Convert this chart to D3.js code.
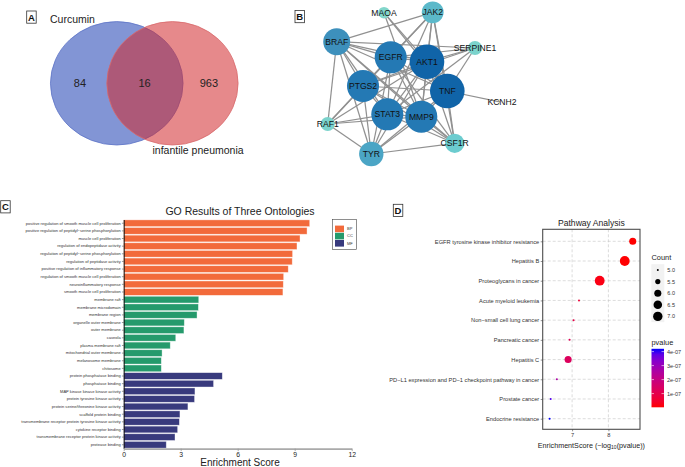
<!DOCTYPE html>
<html><head><meta charset="utf-8">
<script src="https://cdn.jsdelivr.net/npm/d3@7"></script>
<style>body{margin:0;background:#fff}svg{display:block;font-family:"Liberation Sans",Arial,sans-serif}</style>
</head><body><svg id="c" width="685" height="467"></svg>
<script>
// ---------- Panel A : Venn ----------
const vennSets = ["Curcumin", "infantile pneumonia"];
const vennCounts = [84, 16, 963];

// ---------- Panel B : PPI network ----------
const geneNames  = ["MAOA","JAK2","BRAF","SERPINE1","EGFR","AKT1","PTGS2","TNF","KCNH2","STAT3","MMP9","RAF1","CSF1R","TYR"];
const geneDegree = [4, 8, 10, 5, 12, 13, 12, 13, 1, 12, 12, 5, 7, 9];
const layoutX = [84, 132.7, 36.7, 175, 90.7, 127, 63, 147.3, 202, 87.3, 121.3, 27.7, 154.7, 71.3];
const layoutY = [12.7, 12.3, 41.7, 48, 57.3, 61.7, 86, 91, 102.3, 114.3, 116.7, 124, 143.3, 154];
const geneLinks = [
 ["EGFR","AKT1"],["EGFR","PTGS2"],["EGFR","TNF"],["EGFR","STAT3"],["EGFR","MMP9"],
 ["AKT1","PTGS2"],["AKT1","TNF"],["AKT1","STAT3"],["AKT1","MMP9"],
 ["PTGS2","TNF"],["PTGS2","STAT3"],["PTGS2","MMP9"],["TNF","STAT3"],["TNF","MMP9"],["STAT3","MMP9"],
 ["BRAF","EGFR"],["BRAF","AKT1"],["BRAF","PTGS2"],["BRAF","STAT3"],["BRAF","MMP9"],["BRAF","TNF"],
 ["BRAF","RAF1"],["BRAF","TYR"],["BRAF","JAK2"],["BRAF","SERPINE1"],
 ["JAK2","EGFR"],["JAK2","AKT1"],["JAK2","STAT3"],["JAK2","TNF"],["JAK2","PTGS2"],["JAK2","MMP9"],
 ["MAOA","AKT1"],["MAOA","TNF"],["MAOA","MMP9"],
 ["SERPINE1","EGFR"],["SERPINE1","AKT1"],["SERPINE1","TNF"],["SERPINE1","PTGS2"],["SERPINE1","STAT3"],
 ["KCNH2","TNF"],
 ["RAF1","EGFR"],["RAF1","AKT1"],["RAF1","STAT3"],["RAF1","MMP9"],["RAF1","PTGS2"],
 ["CSF1R","EGFR"],["CSF1R","AKT1"],["CSF1R","TNF"],["CSF1R","PTGS2"],["CSF1R","STAT3"],["CSF1R","MMP9"],["CSF1R","BRAF"],["CSF1R","JAK2"],
 ["TYR","PTGS2"],["TYR","STAT3"],["TYR","MMP9"],["TYR","AKT1"],["TYR","EGFR"],["TYR","CSF1R"],["TYR","TNF"],["TYR","RAF1"]
];

// ---------- Panel C : GO enrichment ----------
const goTerms = [
 "positive regulation of smooth muscle cell proliferation","positive regulation of peptidyl−serine phosphorylation",
 "muscle cell proliferation","regulation of endopeptidase activity","regulation of peptidyl−serine phosphorylation",
 "regulation of peptidase activity","positive regulation of inflammatory response","regulation of smooth muscle cell proliferation",
 "neuroinflammatory response","smooth muscle cell proliferation",
 "membrane raft","membrane microdomain","membrane region","organelle outer membrane","outer membrane","caveola",
 "plasma membrane raft","mitochondrial outer membrane","melanosome membrane","chitosome",
 "protein phosphatase binding","phosphatase binding","MAP kinase kinase kinase activity","protein tyrosine kinase activity",
 "protein serine/threonine kinase activity","scaffold protein binding","transmembrane receptor protein tyrosine kinase activity",
 "cytokine receptor binding","transmembrane receptor protein kinase activity","protease binding"];
const goScores = [9.79,9.65,9.28,9.12,8.89,8.87,8.66,8.42,8.40,8.38,
                  3.95,3.93,3.86,3.19,3.17,2.74,2.45,2.02,1.98,1.98,
                  5.19,4.73,3.75,3.73,3.38,2.96,2.93,2.84,2.70,2.24];
const goOntology = ["BP","BP","BP","BP","BP","BP","BP","BP","BP","BP",
                    "CC","CC","CC","CC","CC","CC","CC","CC","CC","CC",
                    "MF","MF","MF","MF","MF","MF","MF","MF","MF","MF"];
const goClasses = ["BP","CC","MF"];
const goColors = ["#f26a3b","#259a6c","#383a7d"];
const goTicks = [0,3,6,9,12];

// ---------- Panel D : KEGG pathways ----------
const pathways = ["EGFR tyrosine kinase inhibitor resistance","Hepatitis B","Proteoglycans in cancer","Acute myeloid leukemia",
 "Non−small cell lung cancer","Pancreatic cancer","Hepatitis C","PD−L1 expression and PD−1 checkpoint pathway in cancer",
 "Prostate cancer","Endocrine resistance"];
const pathwayScore = [8.67,8.45,7.76,7.19,7.04,6.93,6.89,6.58,6.41,6.38];
const pathwayCount = [6,7,7,5,5,5,6,5,5,5];
const pathwayP = [2.1e-9,3.5e-9,1.7e-8,6.5e-8,9.1e-8,1.17e-7,1.29e-7,2.6e-7,3.9e-7,4.2e-7];
const pathTicks = [7,8];
const countBreaks = [5.0,5.5,6.0,6.5,7.0];
const pBreaks = [1e-7,2e-7,3e-7,4e-7];

const svg = d3.select("#c");
svg.append("rect").attr("width",685).attr("height",467).attr("fill","#fff");

function panelLabel(x,y,t){
  svg.append("rect").attr("x",x).attr("y",y).attr("width",9.5).attr("height",12.2)
     .attr("fill","#fff").attr("stroke","#333").attr("stroke-width",0.8);
  svg.append("text").attr("x",x+4.75).attr("y",y+9.6).attr("text-anchor","middle")
     .attr("font-size",9.5).attr("font-weight","bold").attr("fill","#111").text(t);
}

// ===== Panel A =====
{
  const xs = d3.scaleLinear().domain([-1,1]).range([78.3,210.9]);
  const ys = d3.scaleLinear().domain([-1,1]).range([21.6,145]);
  const off = 0.42;
  const g = svg.append("g");
  g.append("ellipse").attr("cx",xs(-off)).attr("cy",ys(0)).attr("rx",xs(1)-xs(0)).attr("ry",ys(1)-ys(0))
   .attr("fill","rgb(28,62,178)").attr("fill-opacity",0.55).attr("stroke","#5d74c6").attr("stroke-width",0.8);
  g.append("ellipse").attr("cx",xs(off)).attr("cy",ys(0)).attr("rx",(xs(1)-xs(0))*0.99).attr("ry",ys(1)-ys(0))
   .attr("fill","rgb(210,40,44)").attr("fill-opacity",0.55).attr("stroke","#d86a6c").attr("stroke-width",0.8);
  const pos = [-0.975, 0, 0.97];
  g.selectAll("text.n").data(vennCounts).join("text").attr("class","n")
   .attr("x",(d,i)=>xs(pos[i])).attr("y",ys(0)+4).attr("text-anchor","middle")
   .attr("font-size",11).attr("fill","#222").text(d=>d);
  g.append("text").attr("x",50).attr("y",23).attr("font-size",10.5).attr("fill","#222").text(vennSets[0]);
  g.append("text").attr("x",152.5).attr("y",154).attr("font-size",10.5).attr("fill","#222").text(vennSets[1]);
  panelLabel(26.7,11,"A");
}

// ===== Panel B =====
{
  const xs = d3.scaleLinear().domain([0,100]).range([300,400]);
  const ys = d3.scaleLinear().domain([0,100]).range([0,100]);
  const rs = d3.scaleLinear().domain([1,13]).range([2,17.3]);
  const cs = d3.scaleLinear().domain([1,4,7,9,10,12,13])
    .range(["#ffffff","#82d6cb","#6ccccf","#4ba5c5","#3d90bc","#2479b4","#1064a8"]);
  const nodes = geneNames.map((n,i)=>({id:n,x:xs(layoutX[i]),y:ys(layoutY[i]),deg:geneDegree[i]}));
  const byId = new Map(nodes.map(n=>[n.id,n]));
  const g = svg.append("g");
  g.selectAll("line").data(geneLinks).join("line")
   .attr("x1",d=>byId.get(d[0]).x).attr("y1",d=>byId.get(d[0]).y)
   .attr("x2",d=>byId.get(d[1]).x).attr("y2",d=>byId.get(d[1]).y)
   .attr("stroke","#919191").attr("stroke-width",1.25);
  g.selectAll("circle").data(nodes).join("circle")
   .attr("cx",d=>d.x).attr("cy",d=>d.y).attr("r",d=>rs(d.deg)).attr("fill",d=>cs(d.deg));
  g.selectAll("text").data(nodes).join("text")
   .attr("x",d=>d.x).attr("y",d=>d.y).attr("dy","0.36em").attr("text-anchor","middle")
   .attr("font-size",8.6).attr("fill","#111").text(d=>d.id);
  panelLabel(295,10.5,"B");
}

// ===== Panel C =====
{
  const xC = d3.scaleLinear().domain([0,12]).range([123.7,351.7]);
  const yC = d3.scaleBand().domain(goTerms).range([219.5,448.5]).paddingInner(0.12).paddingOuter(0.05);
  const col = d3.scaleOrdinal().domain(goClasses).range(goColors);
  const g = svg.append("g");
  g.append("text").attr("x",240).attr("y",214.5).attr("text-anchor","middle").attr("font-size",10.5)
   .attr("fill","#222").text("GO Results of Three Ontologies");
  g.selectAll("rect.bar").data(goTerms).join("rect").attr("class","bar")
   .attr("x",xC(0)).attr("y",d=>yC(d)).attr("width",(d,i)=>xC(goScores[i])-xC(0)).attr("height",yC.bandwidth())
   .attr("fill",(d,i)=>col(goOntology[i])).attr("stroke","#ffffff").attr("stroke-opacity",0.55).attr("stroke-width",0.7);
  const ay = g.append("g").attr("transform",`translate(${xC(0)},0)`)
   .call(d3.axisLeft(yC).tickSize(1.8).tickSizeOuter(0).tickPadding(1.2));
  ay.select(".domain").attr("stroke","#111").attr("stroke-width",1);
  ay.selectAll("line").attr("stroke","#333").attr("stroke-width",0.5);
  ay.selectAll("text").attr("font-size",4.05).attr("fill","#333").attr("font-family",null);
  const ax = g.append("g").attr("transform","translate(0,448.6)")
   .call(d3.axisBottom(xC).tickValues(goTicks).tickSize(2.5).tickSizeOuter(0).tickPadding(1));
  ax.select(".domain").attr("stroke","#aaa").attr("stroke-width",1.6);
  ax.selectAll("line").attr("stroke","#999").attr("stroke-width",0.8);
  ax.selectAll("text").attr("font-size",6.8).attr("fill","#222").attr("font-family",null);
  g.append("text").attr("x",240).attr("y",466.3).attr("text-anchor","middle").attr("font-size",10)
   .attr("fill","#222").text("Enrichment Score");
  // legend
  g.append("rect").attr("x",332.3).attr("y",219.3).attr("width",24.4).attr("height",30)
   .attr("fill","#fff").attr("stroke","#444").attr("stroke-width",0.6);
  const lg = g.selectAll("g.lg").data(goClasses).join("g").attr("class","lg")
   .attr("transform",(d,i)=>`translate(335,${225.6+i*7.2})`);
  lg.append("rect").attr("width",9).attr("height",6.6).attr("fill",d=>col(d));
  lg.append("text").attr("x",12).attr("y",3.3).attr("dy","0.35em").attr("font-size",4).attr("fill","#333").text(d=>d);
  panelLabel(0.7,200.7,"C");
}

// ===== Panel D =====
{
  const xD = d3.scaleLinear().domain([6.19,8.87]).range([542.7,640]);
  const yD = d3.scalePoint().domain(pathways).range([241.3,418.7]);
  const top = 229.3, bot = 429.3;
  const pmin = d3.min(pathwayP), pmax = d3.max(pathwayP);
  const cD = d3.scaleLinear().domain([pmin,pmax]).range(["red","blue"]).interpolate(d3.interpolateLab);
  const area = d3.scaleLinear().domain([5,7]).range([1,24]);
  const rD = v=>Math.sqrt(area(v));
  const g = svg.append("g");
  g.append("text").attr("x",591.4).attr("y",225.5).attr("text-anchor","middle").attr("font-size",8.6)
   .attr("fill","#222").text("Pathway Analysis");
  g.selectAll("line.h").data(pathways).join("line").attr("class","h")
   .attr("x1",xD.range()[0]).attr("x2",xD.range()[1]).attr("y1",d=>yD(d)).attr("y2",d=>yD(d))
   .attr("stroke","#c4c4c4").attr("stroke-width",0.6).attr("stroke-dasharray","3,2");
  g.selectAll("line.v").data(pathTicks).join("line").attr("class","v")
   .attr("x1",d=>xD(d)).attr("x2",d=>xD(d)).attr("y1",top).attr("y2",bot)
   .attr("stroke","#c4c4c4").attr("stroke-width",0.6).attr("stroke-dasharray","3,2");
  g.selectAll("circle.p").data(pathways).join("circle").attr("class","p")
   .attr("cx",(d,i)=>xD(pathwayScore[i])).attr("cy",d=>yD(d)).attr("r",(d,i)=>rD(pathwayCount[i]))
   .attr("fill",(d,i)=>cD(pathwayP[i]));
  g.append("rect").attr("x",xD.range()[0]).attr("y",top).attr("width",xD.range()[1]-xD.range()[0]).attr("height",bot-top)
   .attr("fill","none").attr("stroke","#4d4d4d").attr("stroke-width",1.1);
  const ay = g.append("g").attr("transform",`translate(${xD.range()[0]},0)`)
   .call(d3.axisLeft(yD).tickSize(2).tickPadding(1.5));
  ay.select(".domain").remove();
  ay.selectAll("line").attr("stroke","#444").attr("stroke-width",0.6);
  ay.selectAll("text").attr("font-size",5.7).attr("fill","#333").attr("font-family",null);
  const ax = g.append("g").attr("transform",`translate(0,${bot})`)
   .call(d3.axisBottom(xD).tickValues(pathTicks).tickFormat(d3.format("d")).tickSize(2).tickPadding(1.5));
  ax.select(".domain").remove();
  ax.selectAll("line").attr("stroke","#444").attr("stroke-width",0.6);
  ax.selectAll("text").attr("font-size",5.7).attr("fill","#333").attr("font-family",null);
  const xt = g.append("text").attr("x",591.4).attr("y",447.5).attr("text-anchor","middle").attr("font-size",7.2).attr("fill","#222");
  xt.append("tspan").text("EnrichmentScore (−log");
  xt.append("tspan").attr("font-size",5).attr("dy",1.8).text("10");
  xt.append("tspan").attr("dy",-1.8).text("(pvalue))");
  // Count legend
  g.append("text").attr("x",651.5).attr("y",259.8).attr("font-size",7.4).attr("fill","#222").text("Count");
  g.append("rect").attr("x",651.3).attr("y",264.2).attr("width",13).attr("height",58).attr("fill","#f2f2f2");
  const cl = g.selectAll("g.cl").data(countBreaks).join("g").attr("class","cl")
   .attr("transform",(d,i)=>`translate(657.8,${270+i*11.6})`);
  cl.append("circle").attr("r",d=>Math.min(rD(d),4.7)).attr("fill","#000");
  cl.append("text").attr("x",9.5).attr("dy","0.35em").attr("font-size",5.5).attr("fill","#333").text(d=>d.toFixed(1));
  // pvalue colorbar
  g.append("text").attr("x",651.5).attr("y",344.5).attr("font-size",7.4).attr("fill","#222").text("pvalue");
  const yCb = d3.scaleLinear().domain([pmin,pmax]).range([407.3,348.8]);
  const grad = svg.append("defs").append("linearGradient").attr("id","pg").attr("x1",0).attr("y1",1).attr("x2",0).attr("y2",0);
  d3.range(0,1.0001,0.1).forEach(t=>grad.append("stop").attr("offset",t).attr("stop-color",cD(pmin+t*(pmax-pmin))));
  g.append("rect").attr("x",651.5).attr("y",348.8).attr("width",12.5).attr("height",407.3-348.8).attr("fill","url(#pg)");
  const cb = g.selectAll("g.cb").data(pBreaks).join("g").attr("class","cb").attr("transform",d=>`translate(651.5,${yCb(d)})`);
  cb.append("line").attr("x1",0).attr("x2",2.5).attr("stroke","#fff").attr("stroke-width",0.6);
  cb.append("line").attr("x1",10).attr("x2",12.5).attr("stroke","#fff").attr("stroke-width",0.6);
  cb.append("text").attr("x",15.5).attr("dy","0.35em").attr("font-size",5.5).attr("fill","#333")
    .text(d=>d3.format(".0e")(d).replace("e-7","e-07"));
  panelLabel(393.3,204.3,"D");
}
</script></body></html>
